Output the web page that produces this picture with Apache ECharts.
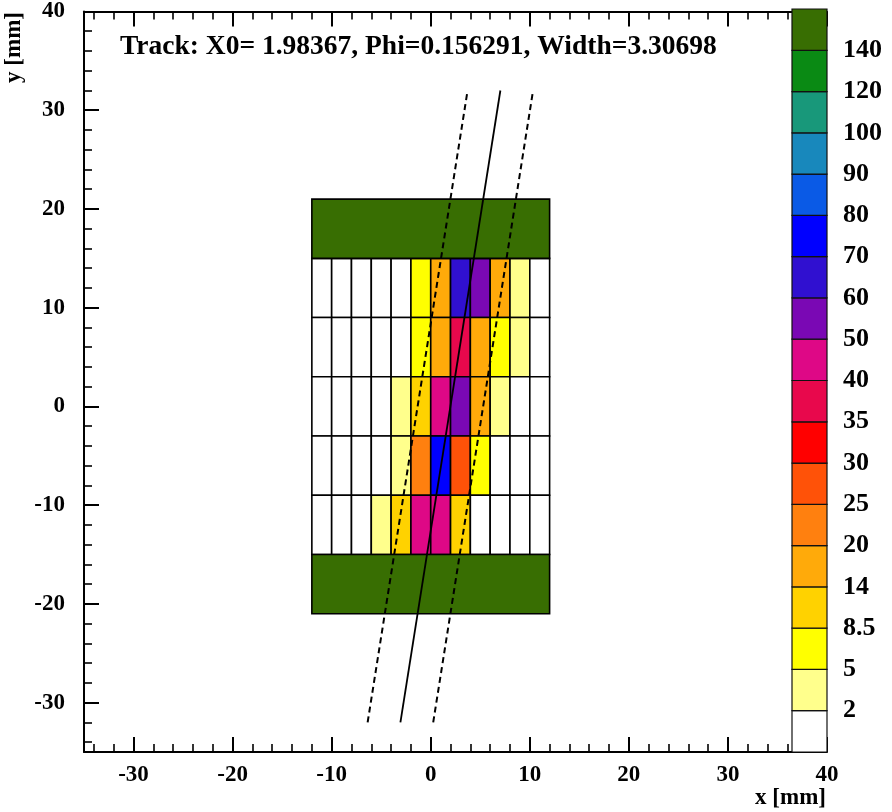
<!DOCTYPE html>
<html>
<head>
<meta charset="utf-8">
<title>Track</title>
<script src="https://cdn.jsdelivr.net/npm/echarts@6/dist/echarts.min.js"></script>
<style>
  html, body { margin: 0; padding: 0; background: #fff; }
  #chart { width: 892px; height: 812px; }
</style>
</head>
<body>
<div id="chart"></div>
<script>
// pad cells: column edges (mm), row edges top -> bottom (mm)
const colEdges = [-12, -10, -8, -6, -4, -2, 0, 2, 4, 6, 8, 10, 12];
const rowEdges = [15, 9, 3, -3, -9, -15];
// cell contents, one row per pad row (top -> bottom), left -> right
const cellValues = [
  [0, 0, 0, 0, 0, 6.5, 17, 65, 55, 17, 3, 0],
  [0, 0, 0, 0, 0, 6.5, 17, 37, 17, 6.5, 3, 0],
  [0, 0, 0, 0, 3, 11, 45, 55, 17, 3, 0, 0],
  [0, 0, 0, 0, 3, 22, 75, 27, 6.5, 0, 0, 0],
  [0, 0, 0, 3, 11, 45, 45, 11, 0, 0, 0, 0]
];
// big pads above and below
const blockX = [-12, 12];
const blockY = [[15, 21], [-21, -15]];
const blockValues = [150, 150];

// track and its band (end points)
const trackY = [-32, 32];
const trackX = [-3.06, 7.03];
const bandLeftX = [-6.37, 3.72];
const bandRightX = [0.25, 10.33];

// palette levels
const levels = [0, 2, 5, 8.5, 14, 20, 25, 30, 35, 40, 50, 60, 70, 80, 90, 100, 120, 140, 1000];
const paletteLabels = ["", "2", "5", "8.5", "14", "20", "25", "30", "35", "40", "50", "60", "70", "80", "90", "100", "120", "140", ""];
const paletteColors = [
  "#ffffff", "#ffff8c", "#ffff00", "#ffd200", "#ffaa0a", "#ff800f", "#ff5208", "#ff0000", "#e8084c",
  "#de0886", "#7a08b4", "#3010d0", "#0000ff", "#0a5ae6", "#1888bc", "#18987a", "#0a8a14", "#386e02"
];

// axis ticks
const majorTicks = [-30, -20, -10, 0, 10, 20, 30, 40];
const minorTicks = [-34, -32, -28, -26, -24, -22, -18, -16, -14, -12, -8, -6, -4, -2,
  2, 4, 6, 8, 12, 14, 16, 18, 22, 24, 26, 28, 32, 34, 36, 38];

const FONT = "Liberation Serif";

const cellData = [];
cellValues.forEach((row, r) => {
  row.forEach((v, c) => {
    cellData.push([colEdges[c], colEdges[c + 1], rowEdges[r + 1], rowEdges[r], v]);
  });
});
blockY.forEach((yy, i) => {
  cellData.push([blockX[0], blockX[1], yy[0], yy[1], blockValues[i]]);
});

const pieces = paletteColors.map((color, i) => ({ gte: levels[i], lt: levels[i + 1], color }));

const renderCell = (params, api) => {
  const p0 = api.coord([api.value(0), api.value(3)]);
  const p1 = api.coord([api.value(1), api.value(2)]);
  return {
    type: "rect",
    shape: { x: p0[0], y: p0[1], width: p1[0] - p0[0], height: p1[1] - p0[1] },
    style: { fill: api.visual("color"), stroke: "#000", lineWidth: 1.6 }
  };
};

const renderPalette = (params, api) => {
  const i = api.value(0);
  const p0 = api.coord([0, i + 1]);
  const p1 = api.coord([1, i]);
  return {
    type: "rect",
    shape: { x: p0[0], y: p0[1], width: p1[0] - p0[0], height: p1[1] - p0[1] },
    style: { fill: paletteColors[i], stroke: "#111", lineWidth: 1.2 }
  };
};

const labelStyle = { color: "#000", fontFamily: FONT, fontWeight: "bold", fontSize: 23 };
const lineStyle = { color: "#000", width: 2 };

const mainAxis = (extra) => Object.assign({
  type: "value",
  gridIndex: 0,
  min: -35,
  max: 40,
  splitLine: { show: false },
  axisLine: { show: true, onZero: false, lineStyle },
  axisTick: { show: true, inside: true, length: 15, customValues: majorTicks, lineStyle },
  axisLabel: { show: false }
}, extra);

const minorAxis = (extra) => Object.assign({
  type: "value",
  gridIndex: 0,
  min: -35,
  max: 40,
  splitLine: { show: false },
  axisLine: { show: false, onZero: false },
  axisTick: { show: true, inside: true, length: 8, customValues: minorTicks, lineStyle: { color: "#000", width: 1.6 } },
  axisLabel: { show: false }
}, extra);

const option = {
  animation: false,
  backgroundColor: "#fff",
  grid: [
    { left: 84, top: 9, width: 743, height: 743 },
    { left: 792, top: 9, width: 35, height: 743 }
  ],
  xAxis: [
    mainAxis({ position: "bottom", axisLabel: Object.assign({ show: true, margin: 12, customValues: majorTicks }, labelStyle) }),
    minorAxis({ position: "bottom" }),
    mainAxis({ position: "top" }),
    minorAxis({ position: "top" }),
    { type: "value", gridIndex: 1, min: 0, max: 1, show: false }
  ],
  yAxis: [
    mainAxis({ position: "left", axisLabel: Object.assign({ show: true, margin: 19, customValues: majorTicks }, labelStyle) }),
    minorAxis({ position: "left" }),
    {
      type: "value",
      gridIndex: 1,
      position: "right",
      min: 0,
      max: 18,
      interval: 1,
      splitLine: { show: false },
      axisLine: { show: false },
      axisTick: { show: false },
      axisLabel: {
        margin: 16,
        color: "#000",
        fontFamily: FONT,
        fontWeight: "bold",
        fontSize: 26,
        formatter: (v) => paletteLabels[v] || ""
      }
    }
  ],
  visualMap: {
    type: "piecewise",
    show: false,
    dimension: 4,
    seriesIndex: 0,
    pieces
  },
  graphic: [
    {
      type: "text",
      x: 120,
      y: 47,
      style: { text: "Track: X0= 1.98367, Phi=0.156291, Width=3.30698", font: "bold 27.5px " + FONT, fill: "#000", align: "left", verticalAlign: "middle" }
    },
    {
      type: "text",
      x: 826,
      y: 798,
      style: { text: "x [mm]", font: "bold 23px " + FONT, fill: "#000", align: "right", verticalAlign: "middle" }
    },
    {
      type: "text",
      x: 14,
      y: 12,
      rotation: Math.PI / 2,
      style: { text: "y [mm]", font: "bold 23px " + FONT, fill: "#000", align: "right", verticalAlign: "middle" }
    }
  ],
  series: [
    {
      type: "custom",
      xAxisIndex: 0,
      yAxisIndex: 0,
      encode: { x: [0, 1], y: [2, 3] },
      renderItem: renderCell,
      data: cellData,
      z: 2
    },
    {
      type: "line",
      xAxisIndex: 0,
      yAxisIndex: 0,
      symbol: "none",
      lineStyle: { color: "#000", width: 1.8 },
      data: [[trackX[0], trackY[0]], [trackX[1], trackY[1]]],
      z: 5
    },
    {
      type: "line",
      xAxisIndex: 0,
      yAxisIndex: 0,
      symbol: "none",
      lineStyle: { color: "#000", width: 2, type: [6, 4] },
      data: [[bandLeftX[0], trackY[0]], [bandLeftX[1], trackY[1]]],
      z: 5
    },
    {
      type: "line",
      xAxisIndex: 0,
      yAxisIndex: 0,
      symbol: "none",
      lineStyle: { color: "#000", width: 2, type: [6, 4] },
      data: [[bandRightX[0], trackY[0]], [bandRightX[1], trackY[1]]],
      z: 5
    },
    {
      type: "custom",
      xAxisIndex: 4,
      yAxisIndex: 2,
      renderItem: renderPalette,
      data: paletteColors.map((c, i) => [i]),
      z: 6
    }
  ]
};

const chart = echarts.init(document.getElementById("chart"));
chart.setOption(option);
</script>
</body>
</html>
